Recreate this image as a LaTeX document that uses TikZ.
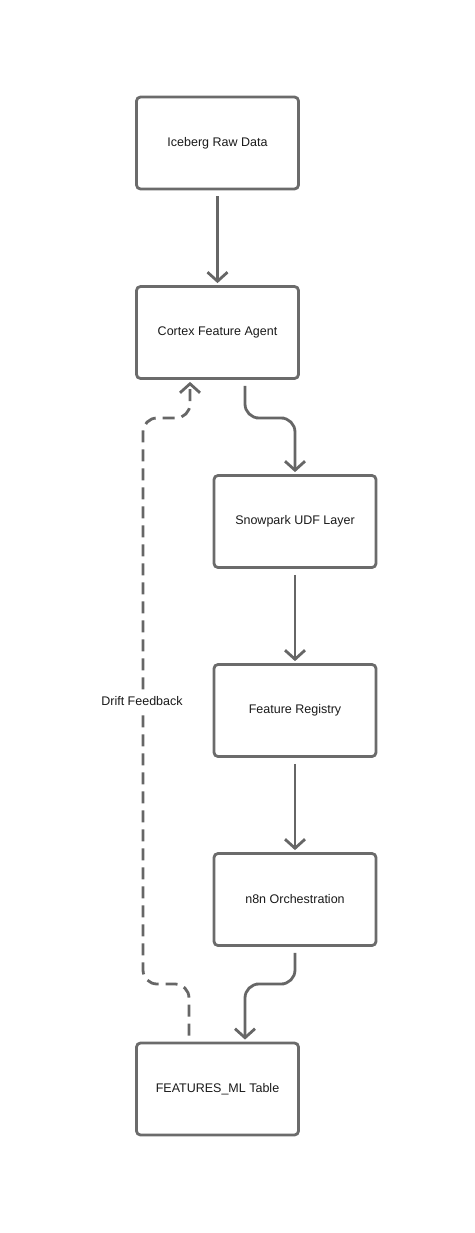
\documentclass[tikz,border=0pt]{standalone}
\usepackage{fontspec}
\setmainfont{Liberation Sans}
\usetikzlibrary{arrows.meta}
\definecolor{boxline}{HTML}{6B6B6B}
\definecolor{conline}{HTML}{666666}
\definecolor{txt}{HTML}{1A1A1A}
\begin{document}
\begin{tikzpicture}[x=1pt,y=-1pt,
  stage/.style={draw=boxline, line width=2.8pt, rounded corners=4pt, fill=white,
    minimum width=162pt, minimum height=92pt, inner sep=0pt,
    font=\fontsize{12.5}{14}\selectfont, text=txt},
  conn/.style={draw=conline, line width=2.8pt, rounded corners=14pt,
    -{Straight Barb[length=9pt,width=20pt,line width=2.8pt]},
    shorten <=6pt, shorten >=2pt},
  fb/.style={conn, dash pattern=on 12pt off 7pt},
  lbl/.style={fill=white, inner sep=4pt, font=\fontsize{12.5}{14}\selectfont, text=txt}]
\useasboundingbox (0,0) rectangle (474,1233);
\node[stage] (raw) at (217.5,143) {Iceberg Raw Data};
\node[stage] (cortex) at (217.5,332.5) {Cortex Feature Agent};
\node[stage] (snow) at (295,521.5) {Snowpark UDF Layer};
\node[stage] (reg) at (295,710.5) {Feature Registry};
\node[stage] (n8n) at (295,899.5) {n8n Orchestration};
\node[stage] (feat) at (217.5,1089) {FEATURES\_ML Table};
\coordinate (m1) at (270,418);
\coordinate (m2) at (270,984);
\coordinate (d1) at (143,984);
\coordinate (d2) at (143,418);
\draw[conn] (raw) -- (cortex);
\draw[conn] ([xshift=27.5pt]cortex.south) |- (m1) -| (snow.north);
\draw[conn] (snow) -- (reg);
\draw[conn] (reg) -- (n8n);
\draw[conn] (n8n.south) |- (m2) -| ([xshift=27.5pt]feat.north);
\draw[fb] ([xshift=-28.5pt]feat.north) |- (d1) -- (d2) -| ([xshift=-27.5pt]cortex.south);
\node[lbl] (drift) at (142,701) {Drift Feedback};
\end{tikzpicture}
\end{document}
